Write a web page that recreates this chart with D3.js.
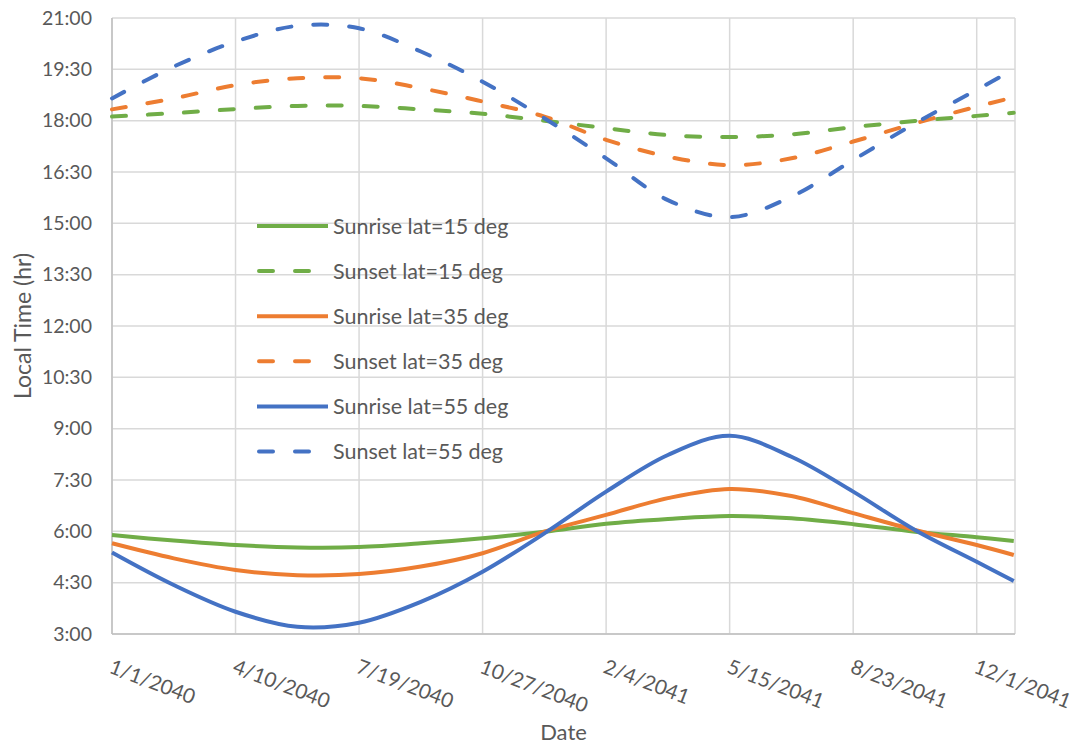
<!DOCTYPE html>
<html>
<head>
<meta charset="utf-8">
<script src="https://cdn.jsdelivr.net/npm/d3@7"></script>
<style>
  html, body { margin: 0; padding: 0; background: #ffffff; }
  svg { display: block; }
  text { font-family: Lato, "Open Sans", sans-serif; fill: #595959; }
</style>
</head>
<body>
<svg id="chart" width="1079" height="747"></svg>
<script>
// Sample dates (every 50 days) and local times in decimal hours
const sampleDates = [
  "2040-01-01", "2040-02-20", "2040-04-10", "2040-05-30", "2040-07-19",
  "2040-09-07", "2040-10-27", "2040-12-16", "2041-02-04", "2041-03-26",
  "2041-05-15", "2041-07-04", "2041-08-23", "2041-10-12", "2041-12-01",
  "2041-12-31"
];

const sunrise15 = [5.89, 5.73, 5.60, 5.53, 5.54, 5.65, 5.80, 5.99, 6.22, 6.36, 6.45, 6.38, 6.21, 5.99, 5.83, 5.72];
const sunset15  = [18.12, 18.22, 18.34, 18.43, 18.43, 18.33, 18.20, 18.00, 17.78, 17.58, 17.52, 17.60, 17.81, 17.99, 18.14, 18.23];
const sunrise35 = [5.65, 5.21, 4.87, 4.72, 4.75, 4.97, 5.36, 5.99, 6.48, 6.97, 7.24, 7.03, 6.53, 6.04, 5.60, 5.31];
const sunset35  = [18.33, 18.65, 19.04, 19.24, 19.24, 18.95, 18.56, 18.12, 17.44, 16.95, 16.70, 16.90, 17.39, 17.92, 18.41, 18.68];
const sunrise55 = [5.38, 4.43, 3.65, 3.21, 3.33, 3.94, 4.82, 5.94, 7.16, 8.23, 8.79, 8.18, 7.16, 6.04, 5.11, 4.55];
const sunset55  = [18.65, 19.58, 20.31, 20.77, 20.70, 20.02, 19.14, 18.07, 16.90, 15.68, 15.18, 15.78, 16.85, 17.92, 18.90, 19.50];

const seriesNames  = ["Sunrise lat=15 deg", "Sunset lat=15 deg", "Sunrise lat=35 deg",
                      "Sunset lat=35 deg", "Sunrise lat=55 deg", "Sunset lat=55 deg"];
const seriesValues = [sunrise15, sunset15, sunrise35, sunset35, sunrise55, sunset55];
const seriesColors = ["#70AD47", "#70AD47", "#ED7D31", "#ED7D31", "#4472C4", "#4472C4"];
const seriesDashed = [false, true, false, true, false, true];

const xTickLabels = ["1/1/2040", "4/10/2040", "7/19/2040", "10/27/2040",
                     "2/4/2041", "5/15/2041", "8/23/2041", "12/1/2041"];
const yTickValues = [3, 4.5, 6, 7.5, 9, 10.5, 12, 13.5, 15, 16.5, 18, 19.5, 21];

const svg = d3.select("#chart");
const plot = { left: 112, right: 1015, top: 18, bottom: 634 };

const parseISO = d3.utcParse("%Y-%m-%d");
const parseUS = d3.utcParse("%m/%d/%Y");
const dates = sampleDates.map(parseISO);
const xTicks = xTickLabels.map(parseUS);

const x = d3.scaleUtc()
  .domain([parseISO("2040-01-01"), parseISO("2042-01-01")])
  .range([plot.left, plot.right]);
const y = d3.scaleLinear()
  .domain([3, 21])
  .range([plot.bottom, plot.top]);

const fmtTime = h => {
  const hh = Math.floor(h), mm = Math.round((h - hh) * 60);
  return hh + ":" + String(mm).padStart(2, "0");
};

// Gridlines
const grid = svg.append("g").attr("stroke", "#d9d9d9").attr("stroke-width", 1.5);
grid.selectAll("line.h").data(yTickValues).join("line")
  .attr("x1", plot.left).attr("x2", plot.right)
  .attr("y1", d => y(d)).attr("y2", d => y(d));
grid.selectAll("line.v").data(xTicks).join("line")
  .attr("x1", d => x(d)).attr("x2", d => x(d))
  .attr("y1", plot.top).attr("y2", plot.bottom);
grid.append("line")
  .attr("x1", plot.right).attr("x2", plot.right)
  .attr("y1", plot.top).attr("y2", plot.bottom);

// Axis lines
svg.append("line").attr("x1", plot.left).attr("x2", plot.right)
  .attr("y1", plot.bottom).attr("y2", plot.bottom)
  .attr("stroke", "#bfbfbf").attr("stroke-width", 1.5);
svg.append("line").attr("x1", plot.left).attr("x2", plot.left)
  .attr("y1", plot.top).attr("y2", plot.bottom)
  .attr("stroke", "#bfbfbf").attr("stroke-width", 1.5);

// Y axis labels
const yAxis = svg.append("g")
  .attr("transform", `translate(${plot.left},0)`)
  .call(d3.axisLeft(y).tickValues(yTickValues).tickFormat(fmtTime).tickSize(0).tickPadding(20));
yAxis.select(".domain").remove();
yAxis.selectAll("text").style("font-size", "19.5px").attr("fill", "#595959")
  .style("font-family", "Lato, 'Open Sans', sans-serif");

// X axis labels, rotated
const xAxis = svg.append("g")
  .attr("transform", `translate(0,${plot.bottom})`)
  .call(d3.axisBottom(x).tickValues(xTicks).tickFormat((d, i) => xTickLabels[i]).tickSize(0));
xAxis.select(".domain").remove();
xAxis.selectAll("text")
  .style("font-size", "20.5px").attr("fill", "#595959")
  .style("font-family", "Lato, 'Open Sans', sans-serif")
  .attr("text-anchor", "start")
  .attr("y", 0).attr("dy", "0.75em")
  .attr("transform", "translate(1,24) rotate(21)");

// Axis titles
svg.append("text").attr("x", (plot.left + plot.right) / 2).attr("y", 740)
  .attr("text-anchor", "middle").style("font-size", "22px").text("Date");
svg.append("text")
  .attr("transform", `translate(31,${(plot.top + plot.bottom) / 2}) rotate(-90)`)
  .attr("text-anchor", "middle").style("font-size", "23px").text("Local Time (hr)");

// Series lines
const line = d3.line()
  .x((d, i) => x(dates[i]))
  .y(d => y(d))
  .curve(d3.curveCatmullRom.alpha(0.5));

svg.append("g").selectAll("path").data(seriesValues).join("path")
  .attr("d", d => line(d))
  .attr("fill", "none")
  .attr("stroke", (d, i) => seriesColors[i])
  .attr("stroke-width", 4)
  .attr("stroke-linecap", (d, i) => seriesDashed[i] ? "round" : "butt")
  .attr("stroke-dasharray", (d, i) => seriesDashed[i] ? "14,22" : null);

// Legend
const legend = svg.append("g");
const rows = legend.selectAll("g").data(seriesNames).join("g")
  .attr("transform", (d, i) => `translate(257,${226 + i * 45.1})`);
rows.append("line")
  .attr("x1", (d, i) => seriesDashed[i] ? 2 : 0)
  .attr("x2", (d, i) => seriesDashed[i] ? 58 : 71)
  .attr("stroke", (d, i) => seriesColors[i])
  .attr("stroke-width", 4)
  .attr("stroke-linecap", (d, i) => seriesDashed[i] ? "round" : "butt")
  .attr("stroke-dasharray", (d, i) => seriesDashed[i] ? "14,22" : null);
rows.append("text")
  .attr("x", 76).attr("dy", "0.35em")
  .style("font-size", "21.5px")
  .text(d => d);
</script>
</body>
</html>
